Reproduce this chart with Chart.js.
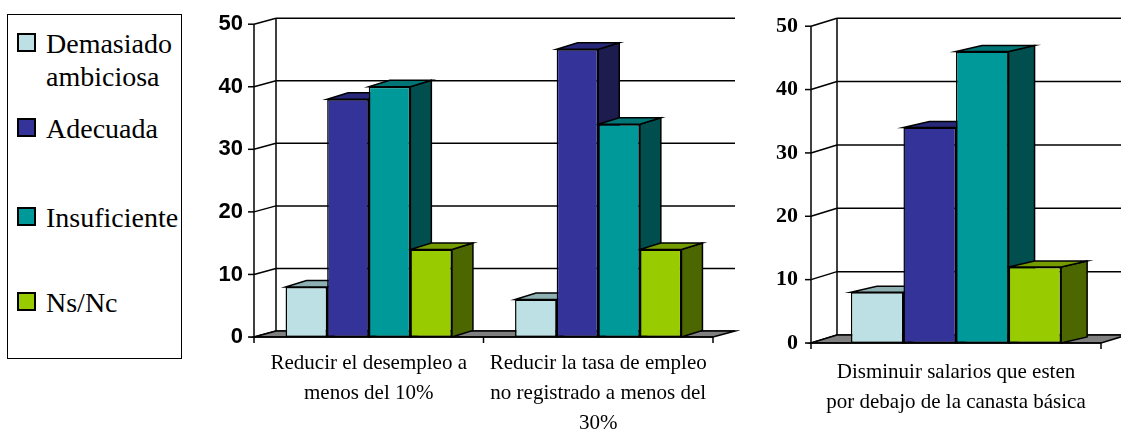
<!DOCTYPE html>
<html>
<head>
<meta charset="utf-8">
<script src="https://cdn.jsdelivr.net/npm/chart.js@4/dist/chart.umd.min.js"></script>
<style>
  body { margin: 0; background: #fff; width: 1121px; height: 432px; position: relative; overflow: hidden; }
  #legend { position: absolute; left: 7px; top: 14px; width: 173px; height: 343px; border: 1.5px solid #000; }
  .item { position: absolute; left: 0; width: 175px; font-family: 'Liberation Serif', 'Times New Roman', Times, serif; font-size: 28px; line-height: 33px; color: #000; }
  .item .sq { position: absolute; left: 9px; width: 15px; height: 15px; border: 2px solid #000; }
  .item .tx { position: absolute; left: 38px; white-space: nowrap; }
  .wrap { position: absolute; top: 0; }
</style>
</head>
<body>
<div id="legend"></div>
<div class="wrap" style="left:200px"><canvas id="chart1" width="540" height="432"></canvas></div>
<div class="wrap" style="left:745px"><canvas id="chart2" width="376" height="432"></canvas></div>
<script>
// series
const seriesNames = [['Demasiado', 'ambiciosa'], ['Adecuada'], ['Insuficiente'], ['Ns/Nc']];
const frontColors = ['#BCE0E3', '#333399', '#009999', '#99CC00'];
const topColors = ['#8FB0B2', '#28287A', '#007575', '#759C00'];
const sideColors = ['#5E7072', '#1C1C4E', '#004E4E', '#4C6600'];

// chart 1
const categories1 = [['Reducir el desempleo a', 'menos del 10%'], ['Reducir la tasa de empleo', 'no registrado a menos del', '30%']];
const demasiado1 = [8, 6];
const adecuada1 = [38, 46];
const insuficiente1 = [40, 34];
const nsnc1 = [14, 14];

// chart 2
const categories2 = [['Disminuir salarios que esten', 'por debajo de la canasta básica']];
const demasiado2 = [8];
const adecuada2 = [34];
const insuficiente2 = [46];
const nsnc2 = [12];

const yMin = 0, yMax = 50, yStep = 10;

const serif = "'Liberation Serif', 'Times New Roman', Times, serif";
const sans = "'Liberation Sans', Arial, Helvetica, sans-serif";

// legend (html)
const legendTops = [27, 112, 201, 286];
const legend = document.getElementById('legend');
seriesNames.forEach((name, i) => {
    let item = document.createElement('div');
    item.className = 'item';
    item.style.top = (legendTops[i] - 15) + 'px';
    let sq = document.createElement('div');
    sq.className = 'sq';
    sq.style.top = '6px';
    sq.style.background = frontColors[i];
    let tx = document.createElement('div');
    tx.className = 'tx';
    tx.innerHTML = name.join('<br>');
    item.appendChild(sq);
    item.appendChild(tx);
    legend.appendChild(item);
});

const line = (ctx, x1, y1, x2, y2) => {
    ctx.beginPath();
    ctx.moveTo(x1, y1);
    ctx.lineTo(x2, y2);
    ctx.stroke();
}

const poly = (ctx, pts, fill) => {
    ctx.beginPath();
    ctx.moveTo(pts[0][0], pts[0][1]);
    for (let k = 1; k < pts.length; k++) ctx.lineTo(pts[k][0], pts[k][1]);
    ctx.closePath();
    ctx.fillStyle = fill;
    ctx.fill();
    ctx.stroke();
}

// fake 3d: back wall, floor, bar sides and tops
const depth3d = {
    id: 'depth3d',
    beforeDatasetsDraw(chart, args, opts) {
        const ctx = chart.ctx, a = chart.chartArea, yScale = chart.scales.y;
        const dx = opts.dx, dy = opts.dy;
        ctx.save();
        ctx.lineWidth = 1.5;
        ctx.strokeStyle = '#000';
        yScale.ticks.forEach(t => {
            let py = yScale.getPixelForValue(t.value);
            line(ctx, a.left, py, a.left + dx, py - dy);
            line(ctx, a.left + dx, py - dy, a.right + dx, py - dy);
        });
        line(ctx, a.left + dx, a.top - dy, a.left + dx, a.bottom - dy);
        poly(ctx, [[a.left, a.bottom], [a.right, a.bottom], [a.right + dx, a.bottom - dy], [a.left + dx, a.bottom - dy]], '#808080');

        let bars = [];
        chart.data.datasets.forEach((ds, i) => {
            chart.getDatasetMeta(i).data.forEach(el => bars.push({ el: el, i: i }));
        });
        bars.sort((p, q) => p.el.x - q.el.x);
        bars.forEach(b => {
            let l = b.el.x - b.el.width / 2, r = b.el.x + b.el.width / 2, t = b.el.y, bs = b.el.base;
            poly(ctx, [[r, bs], [r + opts.bx, bs - opts.by], [r + opts.bx, t - opts.by], [r, t]], sideColors[b.i]);
            poly(ctx, [[l, t], [r, t], [r + opts.bx, t - opts.by], [l + opts.bx, t - opts.by]], topColors[b.i]);
        });
        ctx.restore();
    },
    afterDatasetsDraw(chart) {
        const ctx = chart.ctx, a = chart.chartArea, yScale = chart.scales.y;
        ctx.save();
        ctx.lineWidth = 1.5;
        ctx.strokeStyle = '#000';
        line(ctx, a.left, a.top, a.left, a.bottom + 6);
        line(ctx, a.left, a.bottom, a.right, a.bottom);
        yScale.ticks.forEach(t => {
            let py = yScale.getPixelForValue(t.value);
            line(ctx, a.left - 6, py, a.left, py);
        });
        let n = chart.data.labels.length;
        for (let k = 1; k <= n; k++) {
            let px = a.left + (a.right - a.left) * k / n;
            line(ctx, px, a.bottom, px, a.bottom + 6);
        }
        ctx.restore();
    }
};

const buildDatasets = (cols) => {
    return cols.map((data, i) => ({
        label: seriesNames[i].join(' '),
        data: data,
        backgroundColor: frontColors[i],
        borderColor: '#000',
        borderWidth: 1.5,
        borderSkipped: false,
        categoryPercentage: 0.725,
        barPercentage: 1.0
    }));
}

const initChart = (id, labels, cols, cfg) => {
    return new Chart(document.getElementById(id), {
        type: 'bar',
        data: { labels: labels, datasets: buildDatasets(cols) },
        plugins: [depth3d],
        options: {
            responsive: false,
            animation: false,
            layout: { padding: { top: cfg.top, right: cfg.right, left: 0, bottom: 0 } },
            plugins: {
                legend: { display: false },
                tooltip: { enabled: false },
                depth3d: { dx: cfg.dx, dy: cfg.dy, bx: cfg.bx, by: cfg.by }
            },
            scales: {
                x: {
                    grid: { display: false, drawTicks: false },
                    border: { display: false },
                    ticks: { color: '#000', padding: cfg.xPad, maxRotation: 0, autoSkip: false,
                        font: { family: serif, size: 21, lineHeight: '30px' } },
                    afterFit: s => { s.height = cfg.xHeight; }
                },
                y: {
                    min: yMin, max: yMax,
                    grid: { display: false, drawTicks: false },
                    border: { display: false },
                    ticks: { stepSize: yStep, color: '#000', padding: cfg.yPad, font: cfg.yFont },
                    afterFit: s => { s.width = cfg.yWidth; }
                }
            }
        }
    });
}

document.addEventListener('DOMContentLoaded', function () {
    initChart('chart1', categories1, [demasiado1, adecuada1, insuficiente1, nsnc1], {
        top: 19, right: 27, xHeight: 95, yWidth: 54, xPad: 11, yPad: 11,
        dx: 22, dy: 6, bx: 21, by: 6.5,
        yFont: { family: sans, size: 22, weight: 'bold' }
    });
    initChart('chart2', categories2, [demasiado2, adecuada2, insuficiente2, nsnc2], {
        top: 23, right: 20, xHeight: 89, yWidth: 66, xPad: 14, yPad: 13,
        dx: 26, dy: 8, bx: 26, by: 6,
        yFont: { family: serif, size: 22, weight: 'bold' }
    });
});
</script>
</body>
</html>
